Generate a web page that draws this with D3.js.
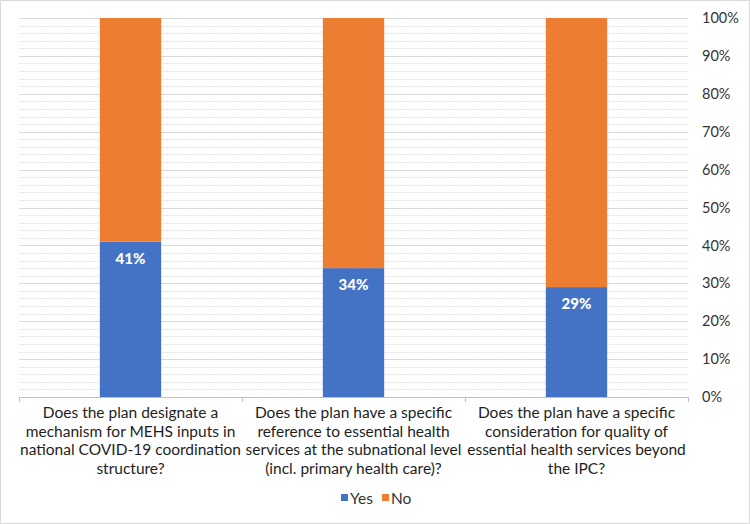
<!DOCTYPE html>
<html><head><meta charset="utf-8">
<script src="https://cdn.jsdelivr.net/npm/d3@7"></script>
<style>
html,body{margin:0;padding:0;background:#fff;}
svg{display:block;}
text{font-family:Lato, "Noto Sans", sans-serif;}
</style></head>
<body>
<svg id="chart" width="750" height="524"></svg>
<script>
const categories = [
  ["Does the plan designate a","mechanism for MEHS inputs in","national COVID-19 coordination","structure?"],
  ["Does the plan have a specific","reference to essential health","services at the subnational level","(incl. primary health care)?"],
  ["Does the plan have a specific","consideration for quality of","essential health services beyond","the IPC?"]
];
const yesValues = [41, 34, 29];
const noValues = [59, 66, 71];
const seriesNames = ["Yes", "No"];
const colors = ["#4472C4", "#ED7D31"];
const majorTicks = [0,10,20,30,40,50,60,70,80,90,100];
const minorTicks = d3.range(0, 101, 2).filter(v => v % 10 !== 0);

(function(){
const svg = d3.select("#chart");
const W = 750, H = 524;
const pLeft = 19, pRight = 688, pTop = 18, pBottom = 397;

svg.append("rect").attr("x",0.5).attr("y",0.5).attr("width",W-1).attr("height",H-1)
  .attr("fill","#fff").attr("stroke","#d9d9d9").attr("stroke-width",1);

const x = d3.scaleBand().domain(d3.range(categories.length)).range([pLeft,pRight]).paddingInner(0).paddingOuter(0);
const y = d3.scaleLinear().domain([0,100]).range([pBottom,pTop]);

const g = svg.append("g");
g.selectAll(".minor").data(minorTicks).enter().append("line")
  .attr("x1",pLeft).attr("x2",pRight)
  .attr("y1",d=>Math.round(y(d))+0.5).attr("y2",d=>Math.round(y(d))+0.5)
  .attr("stroke","#e3e3e3").attr("stroke-width",1).attr("stroke-dasharray","2,1");
g.selectAll(".major").data(majorTicks.filter(d=>d>0)).enter().append("line")
  .attr("x1",pLeft).attr("x2",pRight)
  .attr("y1",d=>Math.round(y(d))+0.5).attr("y2",d=>Math.round(y(d))+0.5)
  .attr("stroke","#d9d9d9").attr("stroke-width",1);

const bw = x.bandwidth()*0.275;
const data = categories.map((c,i)=>({i, yes:yesValues[i], no:noValues[i]}));
const stack = d3.stack().keys(["yes","no"])(data);
stack.forEach((s,k)=>{
  g.selectAll(".bar"+k).data(s).enter().append("rect")
    .attr("x",(d,i)=>x(i)+x.bandwidth()/2-bw/2)
    .attr("width",bw)
    .attr("y",d=>y(d[1]))
    .attr("height",d=>y(d[0])-y(d[1]))
    .attr("fill",colors[k]);
});

g.selectAll(".lbl").data(data).enter().append("text")
  .attr("x",d=>x(d.i)+x.bandwidth()/2)
  .attr("y",d=>y(d.yes)+22)
  .attr("text-anchor","middle")
  .attr("fill","#fff").attr("font-weight","900").attr("font-size","15px")
  .text(d=>d.yes+"%");

g.append("line").attr("x1",pLeft).attr("x2",pRight).attr("y1",pBottom+0.5).attr("y2",pBottom+0.5)
  .attr("stroke","#bfbfbf");
g.selectAll(".xt").data(d3.range(categories.length+1)).enter().append("line")
  .attr("x1",d=>Math.round(pLeft + d*x.bandwidth())+0.5).attr("x2",d=>Math.round(pLeft + d*x.bandwidth())+0.5)
  .attr("y1",pBottom).attr("y2",pBottom+5).attr("stroke","#bfbfbf");

const cl = g.selectAll(".cat").data(categories).enter().append("text")
  .attr("text-anchor","middle").attr("font-size","15.5px").attr("fill","#1e1e1e");
cl.each(function(lines,i){
  const t = d3.select(this);
  lines.forEach((ln,j)=>{
    t.append("tspan").attr("x",x(i)+x.bandwidth()/2).attr("y",418+j*18.7).text(ln);
  });
});

const yAxis = d3.axisRight(y).tickValues(majorTicks).tickFormat(d=>d+"%").tickSize(0).tickPadding(0);
const ya = svg.append("g").attr("transform",`translate(${pRight+14},0)`).call(yAxis);
ya.select(".domain").remove();
ya.selectAll("text").attr("font-size","14.5px").attr("fill","#333").attr("font-family","Lato, sans-serif");

const leg = svg.append("g").attr("transform","translate(341,498)");
const items = [{n:seriesNames[0],c:colors[0],x:0},{n:seriesNames[1],c:colors[1],x:41}];
items.forEach(it=>{
  leg.append("rect").attr("x",it.x).attr("y",-4).attr("width",7).attr("height",7).attr("fill",it.c);
  leg.append("text").attr("x",it.x+9).attr("y",5.5).attr("font-size","15.5px").attr("fill","#333").text(it.n);
});
})();
</script>
</body></html>
